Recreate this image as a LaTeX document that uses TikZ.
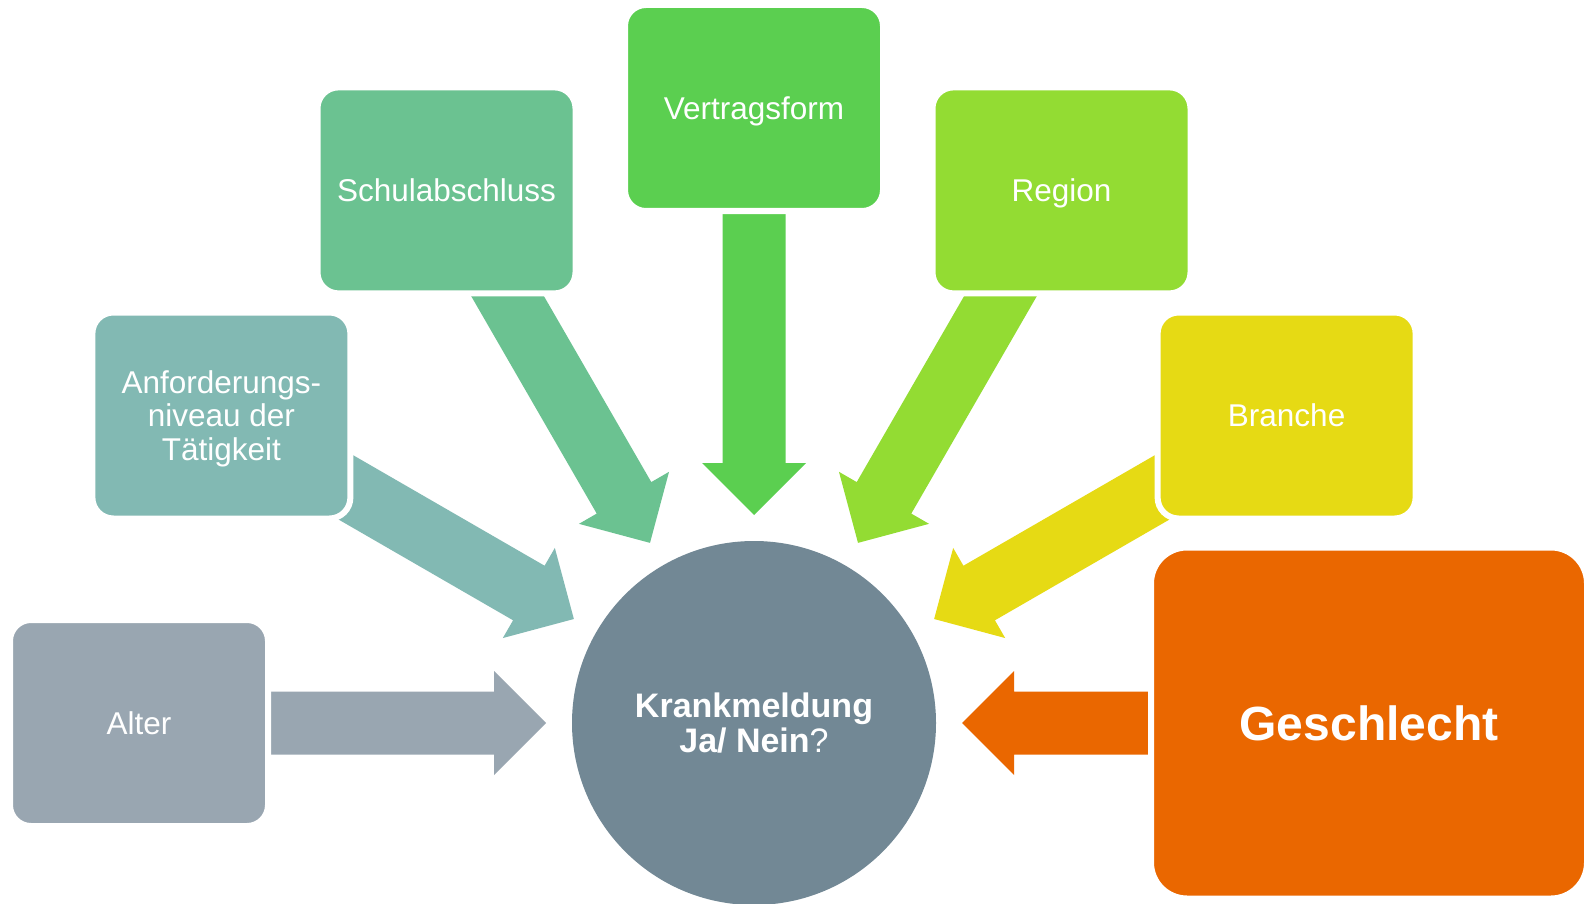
\documentclass[tikz,border=0pt]{standalone}
\usepackage{fontspec}
\setmainfont{Liberation Sans}
\usetikzlibrary{calc}
\definecolor{cAlter}{HTML}{99A6B1}
\definecolor{cAnf}{HTML}{82B9B3}
\definecolor{cSchul}{HTML}{6BC291}
\definecolor{cVert}{HTML}{5BCF50}
\definecolor{cRegion}{HTML}{93DC33}
\definecolor{cBranche}{HTML}{E6DA14}
\definecolor{cGesch}{HTML}{EA6700}
\definecolor{cCirc}{HTML}{728895}
\newcommand\radarrow[2]{%
  \fill[#2] ($(c)+(#1:208)$) -- ($(c)+(#1:260)+(#1+90:52)$) -- ($(c)+(#1:260)+(#1+90:31.5)$)
   -- ($(c)+(#1:530)+(#1+90:31.5)$) -- ($(c)+(#1:530)+(#1-90:31.5)$)
   -- ($(c)+(#1:260)+(#1-90:31.5)$) -- ($(c)+(#1:260)+(#1-90:52)$) -- cycle;}
\begin{document}
\begin{tikzpicture}[x=1pt,y=-1pt,
  box/.style={rectangle, rounded corners=21pt, draw=white, line width=6pt,
    text=white, font=\fontsize{31.5}{33.3}\selectfont, align=center, inner sep=0pt,
    text depth=0pt, minimum width=258pt, minimum height=206pt}]
\useasboundingbox (0,0) rectangle (1584,904);
\fill[white] (0,0) rectangle (1584,904);
\coordinate (c) at (754,723);
% block arrows
\radarrow{180}{cAlter}
\radarrow{210}{cAnf}
\radarrow{240}{cSchul}
\radarrow{270}{cVert}
\radarrow{300}{cRegion}
\radarrow{330}{cBranche}
\radarrow{0}{cGesch}
% boxes
\node[box, fill=cAlter] (alter) at ($(c)+(180:615)$) {Alter};
\node[box, fill=cAnf] (anf) at ($(c)+(210:615)$) {Anforderungs-\\niveau der\\Tätigkeit};
\node[box, fill=cSchul] (schul) at ($(c)+(240:615)$) {Schulabschluss};
\node[box, fill=cVert] (vert) at ($(c)+(270:615)$) {Vertragsform};
\node[box, fill=cRegion] (region) at ($(c)+(300:615)$) {Region};
\node[box, fill=cBranche] (branche) at ($(c)+(330:615)$) {Branche};
\node[box, fill=cGesch, rounded corners=36pt, minimum width=436pt, minimum height=351pt,
  font=\fontsize{48}{50}\selectfont\bfseries] (gesch) at ($(c)+(0:615)$) {Geschlecht};
% center circle
\node[circle, fill=cCirc, minimum size=364pt, inner sep=0pt, text=white, align=center,
  font=\fontsize{34}{35.3}\selectfont\bfseries] (k) at (c) {Krankmeldung\\Ja/ Nein{\mdseries ?}};
\end{tikzpicture}
\end{document}
